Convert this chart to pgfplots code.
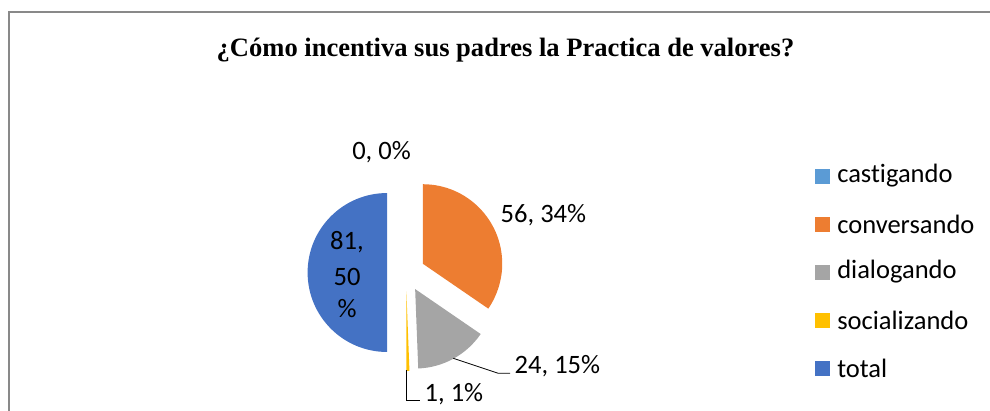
\documentclass[border=0pt]{standalone}
\usepackage{fontspec}
\setmainfont{Carlito}[Ligatures={NoCommon}]
\newfontfamily\titlefont{Liberation Serif}
\usepackage{pgfplots}
\pgfplotsset{compat=1.18}

\definecolor{castigando}{HTML}{5B9BD5}
\definecolor{conversando}{HTML}{ED7D31}
\definecolor{dialogando}{HTML}{A5A5A5}
\definecolor{socializando}{HTML}{FFC000}
\definecolor{total}{HTML}{4472C4}
\definecolor{framegray}{HTML}{898989}

% one pixel of the reference = 0.75pt
\newcommand\pieradius{59.6}   % 79.5 px
\newcommand\pieexplode{14.2}  % 19 px
\pgfmathsetmacro\pietotal{0+56+24+1+81}
\def\piecum{0}

% slices run clockwise from 12 o'clock, each pushed out along its bisector
\newcommand\pieslice[2]{%
  \pgfmathsetmacro\sa{90-\piecum/\pietotal*360}%
  \pgfmathsetmacro\ea{90-(\piecum+#1)/\pietotal*360}%
  \pgfmathsetmacro\ma{(\sa+\ea)/2}%
  \ifdim #1pt>0pt
  \edef\tmp{\noexpand\fill[#2] (axis cs:406,272.5) ++(\ma:\pieexplode pt)
    -- ++(\sa:\pieradius pt) arc[start angle=\sa, end angle=\ea, radius=\pieradius pt] -- cycle;}%
  \tmp
  \fi
  \pgfmathsetmacro\piecum{\piecum+#1}%
}

\newcommand\lbl{\fontsize{19.9}{23}\selectfont}
\newcommand\legitem[2]{%
  \fill[#1] (axis cs:815,#2-7.5) rectangle (axis cs:830,#2+7.5);
  \node[font=\lbl, anchor=west, inner sep=0pt] at (axis cs:837,#2) {#1};
}

\begin{document}
\begin{tikzpicture}
\begin{axis}[
  x=0.75pt, y=0.75pt, y dir=reverse,
  xmin=0, xmax=990, ymin=0, ymax=411,
  hide axis, clip=false
]
% frame
\draw[framegray, line width=0.9pt] (axis cs:990,12) -- (axis cs:9,12) -- (axis cs:9,411);

% title
\node[font=\titlefont\bfseries\fontsize{19.9}{24}\selectfont] at (axis cs:505.5,50)
  {¿Cómo incentiva sus padres la Practica de valores?};

% slices
\pieslice{0}{castigando}
\pieslice{56}{conversando}
\pieslice{24}{dialogando}
\pieslice{1}{socializando}
\pieslice{81}{total}

% data labels
\node[font=\lbl] at (axis cs:381.5,152) {0, 0\%};
\node[font=\lbl, anchor=west] at (axis cs:496,215) {56, 34\%};
\node[font=\lbl] at (axis cs:347,242) {81,};
\node[font=\lbl] at (axis cs:347,277) {50};
\node[font=\lbl] at (axis cs:347,309) {\%};
\draw[black, line width=0.6pt] (axis cs:453.3,358.3) -- (axis cs:498.3,373.3) -- (axis cs:510,373.3);
\node[font=\lbl, anchor=west] at (axis cs:510,366) {24, 15\%};
\draw[black, line width=0.6pt] (axis cs:406.7,370) -- (axis cs:406.7,400) -- (axis cs:420,400);
\node[font=\lbl, anchor=west] at (axis cs:420,394) {1, 1\%};

% legend
\legitem{castigando}{176}
\legitem{conversando}{224}
\legitem{dialogando}{272}
\legitem{socializando}{320.5}
\legitem{total}{368.3}
\end{axis}
\pgfresetboundingbox
\path (current axis.south west) rectangle (current axis.north east);
\end{tikzpicture}
\end{document}
